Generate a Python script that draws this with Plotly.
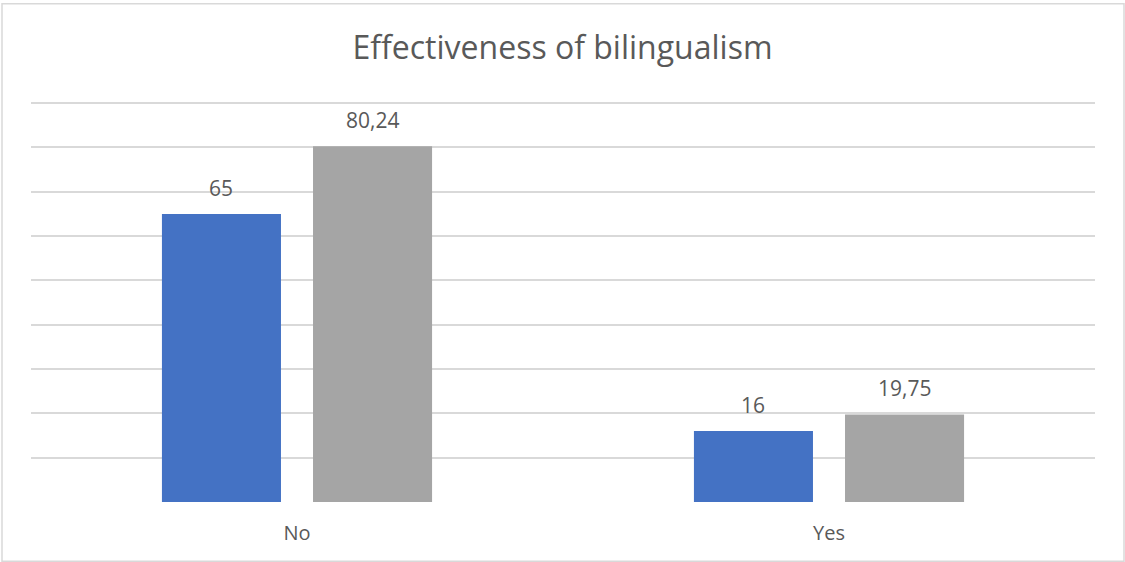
import plotly.graph_objects as go

# Survey answers and the two groups compared
categories = ["No", "Yes"]
group_a = [65, 16]
group_b = [80.24, 19.75]
y_ticks = [0, 10, 20, 30, 40, 50, 60, 70, 80, 90]


def fmt(v):
    s = f"{v:g}"
    return s.replace(".", ",")


W, H = 1125, 562
L, R, T, B = 31, 30, 103, 60
pw, ph = W - L - R, H - T - B

TEXT = "#595959"
FONT = "Open Sans"
BARGAP, GROUPGAP = 0.432, 0.212

fig = go.Figure()
for vals, color in ((group_a, "#4472C4"), (group_b, "#A5A5A5")):
    fig.add_trace(go.Bar(
        x=categories, y=vals, marker=dict(color=color, line=dict(width=0)),
        hoverinfo="x+y",
    ))

# Value labels above each bar (slot offset within a grouped category)
slot = (1 - BARGAP) / 2
for k, vals in enumerate((group_a, group_b)):
    off = (k - 0.5) * slot
    for i, v in enumerate(vals):
        fig.add_annotation(x=i + off, y=v, xref="x", yref="y", text=fmt(v),
                           showarrow=False, yanchor="middle", yshift=26,
                           font=dict(family=FONT, size=21, color=TEXT))


def px_x(px):
    return (px - L) / pw


def px_y(py):
    return (H - B - py) / ph


fig.add_shape(type="rect", xref="paper", yref="paper",
              x0=px_x(2), x1=px_x(1124), y0=px_y(561), y1=px_y(5),
              line=dict(color="#D9D9D9", width=1.5), layer="below")

fig.update_layout(
    width=W, height=H,
    margin=dict(l=L, r=R, t=T - 1, b=B),
    paper_bgcolor="white", plot_bgcolor="white",
    barmode="group", bargap=BARGAP, bargroupgap=GROUPGAP,
    showlegend=False,
    title=dict(text="Effectiveness of bilingualism", x=0.5, xanchor="center",
               y=1 - 48 / H, yanchor="middle",
               font=dict(family=FONT, size=32, color=TEXT)),
)
fig.update_xaxes(showgrid=False, showline=False, ticks="", ticklabelstandoff=17,
                 tickfont=dict(family=FONT, size=20, color=TEXT), zeroline=False)
fig.update_yaxes(range=[0, 90.25], tickvals=y_ticks, showticklabels=False,
                 showgrid=True, gridcolor="#D9D9D9", gridwidth=1.5,
                 zeroline=False, showline=False, ticks="")

fig.write_html("out.html")
